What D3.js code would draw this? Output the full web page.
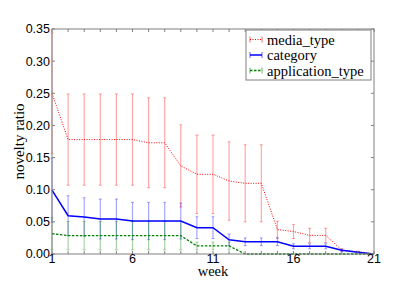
<!DOCTYPE html>
<html>
<head>
<meta charset="utf-8">
<script src="https://cdnjs.cloudflare.com/ajax/libs/d3/7.8.5/d3.min.js"></script>
<style>
  body { margin: 0; background: #fff; }
  svg { display: block; }
</style>
</head>
<body>
<svg></svg>
<script>
// данные
const weeks = d3.range(1, 22);
const mediaType = [0.250, 0.178, 0.178, 0.178, 0.178, 0.178, 0.173, 0.173, 0.137, 0.124, 0.124,
                   0.1135, 0.110, 0.110, 0.038, 0.035, 0.029, 0.029, 0.006, 0.0036, 0.0];
const mediaErr = [0.094, 0.071, 0.071, 0.071, 0.071, 0.071, 0.070, 0.070, 0.064, 0.061, 0.061,
                  0.061, 0.060, 0.060, 0.013, 0.011, 0.011, 0.011, 0.002, 0.001, 0.0];
const category = [0.0995, 0.0596, 0.0575, 0.0544, 0.0544, 0.0513, 0.0513, 0.0513, 0.0513, 0.041, 0.041,
                  0.022, 0.019, 0.019, 0.019, 0.012, 0.012, 0.012, 0.0057, 0.0026, 0.0];
const categoryErr = [0.05, 0.031, 0.030, 0.031, 0.031, 0.029, 0.029, 0.029, 0.028, 0.017, 0.017,
                     0.009, 0.006, 0.006, 0.006, 0.004, 0.004, 0.004, 0.002, 0.001, 0.0];
const appType = [0.0316, 0.0285, 0.0285, 0.0285, 0.0285, 0.0285, 0.0285, 0.0285, 0.0285, 0.0125, 0.0125,
                 0.0125, 0, 0, 0, 0, 0, 0, 0, 0, 0];
const appErr = [0.025, 0.022, 0.022, 0.022, 0.022, 0.022, 0.022, 0.022, 0.022, 0.006, 0.006,
                0.006, 0, 0, 0, 0, 0, 0, 0, 0, 0];
const xTicks = [1, 6, 11, 16, 21];
const yTicks = [0, 0.05, 0.10, 0.15, 0.20, 0.25, 0.30, 0.35];
const seriesNames = ["media_type", "category", "application_type"];

const W = 415, H = 283;
const margin = { left: 52, right: 41, top: 29, bottom: 29 };
const svg = d3.select("svg").attr("width", W).attr("height", H);

const sans = "Liberation Sans";
const serif = "Liberation Serif";

const x = d3.scaleLinear().domain([1, 21]).range([margin.left, W - margin.right]);
const y = d3.scaleLinear().domain([0, 0.35]).range([H - margin.bottom, margin.top]);

const series = [
    { name: seriesNames[0], vals: mediaType, err: mediaErr, color: "#ff0000", dash: "1,1.5", width: 1 },
    { name: seriesNames[1], vals: category, err: categoryErr, color: "#0000ff", dash: null, width: 1.5 },
    { name: seriesNames[2], vals: appType, err: appErr, color: "#008000", dash: "2.5,1.5", width: 1.3 }
];

// полосы ошибок
const plot = svg.append("g");
series.forEach(s => {
    const g = plot.append("g").attr("stroke", s.color).attr("stroke-opacity", 0.35).attr("fill", "none");
    weeks.forEach((w, i) => {
        if (s.err[i] <= 0) return;
        const lo = Math.max(0, s.vals[i] - s.err[i]), hi = s.vals[i] + s.err[i];
        g.append("line").attr("x1", x(w)).attr("x2", x(w)).attr("y1", y(lo)).attr("y2", y(hi)).attr("stroke-width", 1.2);
        [lo, hi].forEach(v => g.append("line").attr("x1", x(w) - 1.5).attr("x2", x(w) + 1.5)
            .attr("y1", y(v)).attr("y2", y(v)).attr("stroke-width", 1));
    });
});

// линии
const line = d3.line().x((d, i) => x(weeks[i])).y(d => y(d));
series.forEach(s => {
    plot.append("path")
        .attr("d", line(s.vals))
        .attr("fill", "none")
        .attr("stroke", s.color)
        .attr("stroke-width", s.width)
        .attr("stroke-dasharray", s.dash);
});

// рамка и тики
const frame = "#808080";
const axisG = svg.append("g").attr("stroke", frame).attr("stroke-width", 1);
axisG.append("rect")
    .attr("x", x(1)).attr("y", y(0.35))
    .attr("width", x(21) - x(1)).attr("height", y(0) - y(0.35))
    .attr("fill", "none");
weeks.forEach(w => {
    axisG.append("line").attr("x1", x(w)).attr("x2", x(w)).attr("y1", y(0)).attr("y2", y(0) - 3);
    axisG.append("line").attr("x1", x(w)).attr("x2", x(w)).attr("y1", y(0.35)).attr("y2", y(0.35) + 3);
});
yTicks.forEach(v => {
    axisG.append("line").attr("x1", x(1)).attr("x2", x(1) + 3).attr("y1", y(v)).attr("y2", y(v));
    axisG.append("line").attr("x1", x(21)).attr("x2", x(21) - 3).attr("y1", y(v)).attr("y2", y(v));
});

svg.append("g").selectAll("text").data(yTicks).join("text")
    .attr("x", x(1) - 2).attr("y", d => y(d)).attr("dy", "0.35em")
    .attr("text-anchor", "end")
    .attr("font-family", sans).attr("font-size", 12.5)
    .text(d => d3.format(".2f")(d));

svg.append("g").selectAll("text").data(xTicks).join("text")
    .attr("x", d => x(d)).attr("y", 263)
    .attr("text-anchor", "middle")
    .attr("font-family", sans).attr("font-size", 12.5)
    .text(d => d);

svg.append("text")
    .attr("x", (x(1) + x(21)) / 2).attr("y", 276)
    .attr("text-anchor", "middle")
    .attr("font-family", serif).attr("font-size", 14.5)
    .text("week");

svg.append("text")
    .attr("transform", `translate(24, ${(y(0) + y(0.35)) / 2}) rotate(-90)`)
    .attr("text-anchor", "middle")
    .attr("font-family", serif).attr("font-size", 15)
    .text("novelty ratio");

// легенда
const leg = svg.append("g").attr("transform", "translate(246, 30)");
leg.append("rect").attr("width", 125).attr("height", 50)
    .attr("fill", "#fff").attr("stroke", frame).attr("stroke-width", 1);
series.forEach((s, i) => {
    const row = leg.append("g").attr("transform", `translate(0, ${9.5 + i * 15.5})`);
    row.append("line").attr("x1", 4).attr("x2", 16).attr("y1", 0).attr("y2", 0)
        .attr("stroke", s.color).attr("stroke-width", s.width).attr("stroke-dasharray", s.dash);
    [4, 16].forEach(cx => row.append("line").attr("x1", cx).attr("x2", cx).attr("y1", -3).attr("y2", 3)
        .attr("stroke", s.color).attr("stroke-opacity", 0.6).attr("stroke-width", 1));
    row.append("text").attr("x", 21).attr("y", 0).attr("dy", "0.35em")
        .attr("font-family", serif).attr("font-size", 14.5)
        .text(s.name);
});
</script>
</body>
</html>
